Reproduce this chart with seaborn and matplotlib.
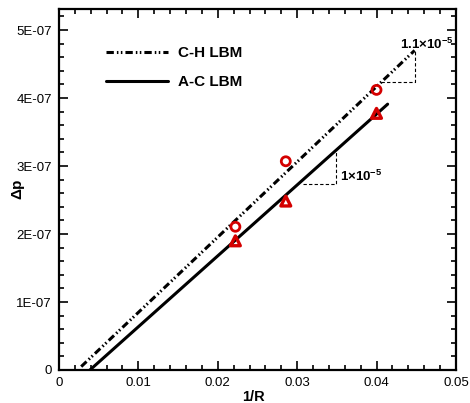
import matplotlib
matplotlib.use("Agg")
import matplotlib.pyplot as plt
import matplotlib.ticker as mticker
import seaborn as sns
import pandas as pd

# Fitted lines (end points) for the two LBM models
ch_line_x = [0.0028, 0.0448]
ch_line_y = [0.05e-7, 4.70e-7]
ac_line_x = [0.0039, 0.0414]
ac_line_y = [0.0, 3.91e-7]

# Simulated pressure jumps at three radii
inv_r = [1 / 45, 1 / 35, 1 / 25]
ch_dp = [2.107e-7, 3.07e-7, 4.12e-7]
ac_dp = [1.90e-7, 2.485e-7, 3.775e-7]

# Slope triangles: (x_left, x_right, y_bottom, y_top)
ch_tri = [0.0406, 0.04484, 4.23e-7, 4.696e-7]
ac_tri = [0.03077, 0.03485, 2.731e-7, 3.21e-7]
ch_slope_label = r"$\mathbf{1.1{\times}10^{-5}}$"
ac_slope_label = r"$\mathbf{1{\times}10^{-5}}$"

x_ticks = [0, 0.01, 0.02, 0.03, 0.04, 0.05]
x_tick_labels = ["0", "0.01", "0.02", "0.03", "0.04", "0.05"]
y_ticks = [0, 1e-7, 2e-7, 3e-7, 4e-7, 5e-7]
y_tick_labels = ["0", "1E-07", "2E-07", "3E-07", "4E-07", "5E-07"]

sns.set_style("ticks")
plt.rcParams["font.family"] = ["Liberation Sans", "DejaVu Sans"]
plt.rcParams["mathtext.fontset"] = "custom"
plt.rcParams["mathtext.rm"] = "Liberation Sans"
plt.rcParams["mathtext.bf"] = "Liberation Sans:bold"
for key in ("text.color", "axes.labelcolor", "xtick.color", "ytick.color"):
    plt.rcParams[key] = "black"

fig = plt.figure(figsize=(4.70, 4.03), dpi=100)
ax = fig.add_axes([0.1255, 0.0819, 0.8445, 0.8958])

red = "#d40000"
lines = pd.DataFrame({
    "x": ch_line_x + ac_line_x,
    "y": ch_line_y + ac_line_y,
    "model": ["C-H LBM"] * 2 + ["A-C LBM"] * 2,
})
sns.lineplot(data=lines, x="x", y="y", hue="model", style="model",
             palette={"C-H LBM": "black", "A-C LBM": "black"},
             dashes={"C-H LBM": (2.4, 1.0, 0.5, 0.8, 0.5, 1.0), "A-C LBM": ""},
             linewidth=2.2, ax=ax, legend=True)

sns.scatterplot(x=inv_r, y=ch_dp, marker="o", s=42, facecolor="none",
                edgecolor=red, linewidth=2.0, ax=ax, zorder=5)
sns.scatterplot(x=inv_r, y=ac_dp, marker="^", s=50, facecolor="none",
                edgecolor=red, linewidth=2.4, ax=ax, zorder=5)

# slope triangles
for tri in (ch_tri, ac_tri):
    x0, x1, y0, y1 = tri
    ax.plot([x0, x1, x1], [y0, y0, y1], color="black", lw=0.8,
            ls=(0, (3, 2)), zorder=3)
ax.text(ch_tri[0] + 0.0023, ch_tri[3] + 0.09e-7, ch_slope_label,
        fontsize=9.5, ha="left", va="center")
ax.text(ac_tri[1] + 0.0006, (ac_tri[2] + ac_tri[3]) / 2 - 0.12e-7,
        ac_slope_label, fontsize=9.5, ha="left", va="center")

ax.set_xlim(0, 0.05)
ax.set_ylim(0, 5.31e-7)
ax.set_xticks(x_ticks)
ax.set_xticklabels(x_tick_labels)
ax.set_yticks(y_ticks)
ax.set_yticklabels(y_tick_labels)
ax.xaxis.set_minor_locator(mticker.MultipleLocator(0.002))
ax.yaxis.set_minor_locator(mticker.MultipleLocator(0.2e-7))
ax.tick_params(which="both", direction="in", top=True, right=True,
               labelsize=9.5, width=1.2, colors="black")
ax.tick_params(which="major", length=6.5, pad=5)
ax.tick_params(which="minor", length=3.5)
for s in ax.spines.values():
    s.set_linewidth(1.6)
    s.set_color("black")

ax.set_xlabel("1/R", fontsize=10.5, fontweight="bold")
ax.xaxis.set_label_coords(0.49, -0.056)
ax.set_ylabel(r"$\mathbf{\Delta p}$", fontsize=11)
ax.yaxis.set_label_coords(-0.081, 0.5)

leg = ax.legend(loc="upper left", bbox_to_anchor=(0.118, 0.897),
                frameon=False, handlelength=4.1, handletextpad=0.65,
                labelspacing=0.98, borderpad=0, borderaxespad=0,
                prop={"size": 11, "weight": "bold"})
for h in leg.get_lines():
    h.set_linewidth(2.2)

fig.savefig("out.png", dpi=100)
